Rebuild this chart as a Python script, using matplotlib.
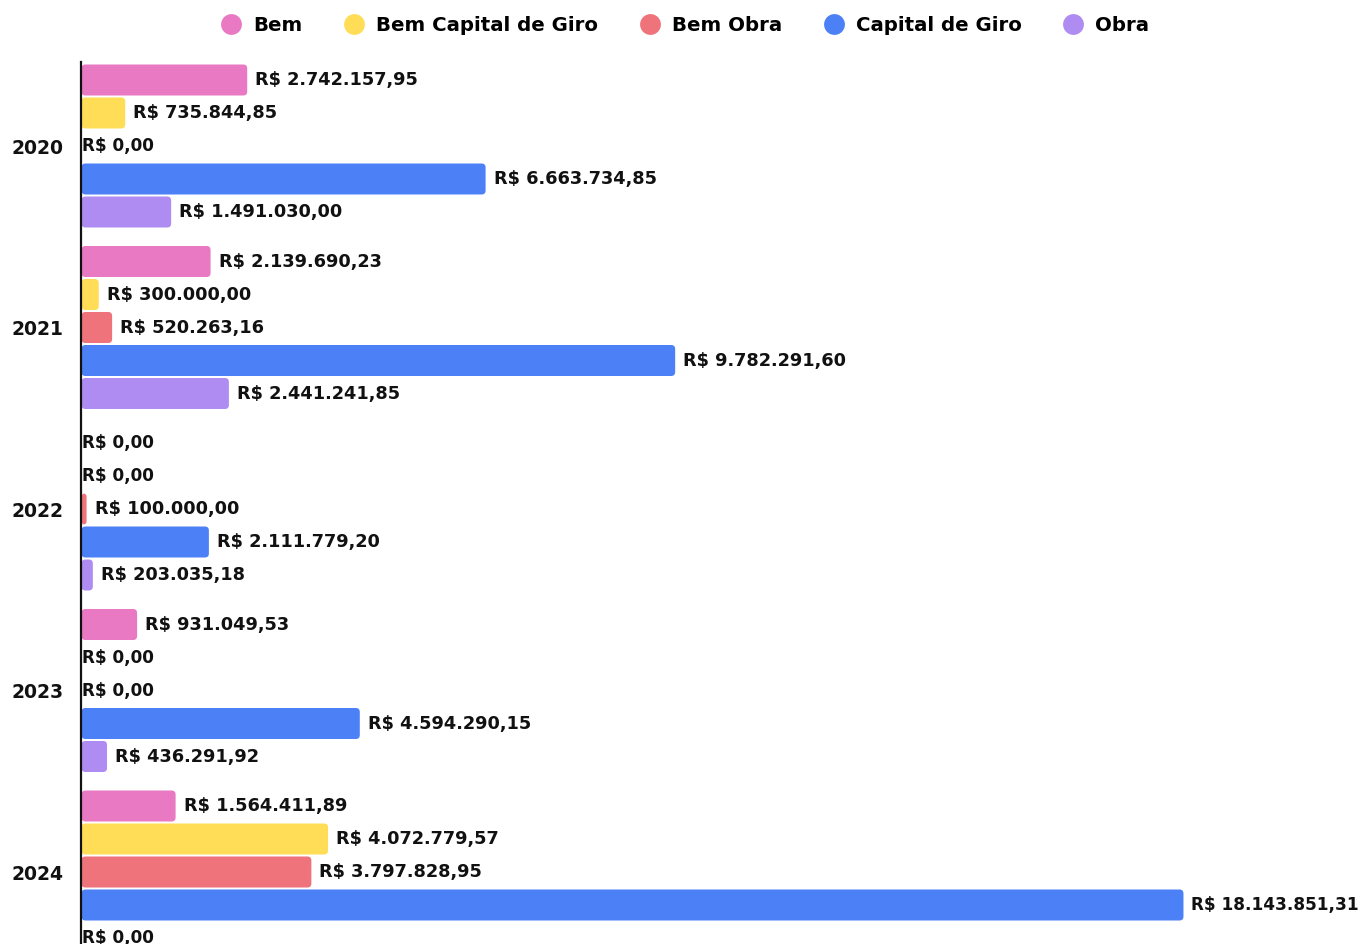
import matplotlib
matplotlib.use("Agg")
import matplotlib.pyplot as plt
from matplotlib.patches import FancyBboxPatch
from matplotlib.lines import Line2D
import numpy as np

years = ["2020", "2021", "2022", "2023", "2024"]
series = ["Bem", "Bem Capital de Giro", "Bem Obra", "Capital de Giro", "Obra"]
bem = [2742157.95, 2139690.23, 0.0, 931049.53, 1564411.89]
bem_capital_giro = [735844.85, 300000.00, 0.0, 0.0, 4072779.57]
bem_obra = [0.0, 520263.16, 100000.00, 0.0, 3797828.95]
capital_giro = [6663734.85, 9782291.60, 2111779.20, 4594290.15, 18143851.31]
obra = [1491030.00, 2441241.85, 203035.18, 436291.92, 0.0]
colors = ["#E879C2", "#FFDD57", "#EF737B", "#4B80F6", "#AF8CF2"]

data = [bem, bem_capital_giro, bem_obra, capital_giro, obra]

plt.rcParams['font.family'] = ['DejaVu Sans']
W, H = 1362, 944
fig = plt.figure(figsize=(W / 100, H / 100), dpi=100)
top_px = 62
ax = fig.add_axes([80.5 / W, 0, 1 - 80.5 / W, (H - top_px) / H])

px_per_group = 181.5
slot = 33 / px_per_group
bh = 31 / px_per_group
x_per_px = 1e6 / 60.79

ax.set_ylim((H - 146) / px_per_group, -(146 - top_px) / px_per_group)
ax.set_xlim(0, (W - 80.5) * x_per_px)

def fmt(v):
    s = f"{v:,.2f}"
    return "R$ " + s.replace(",", "X").replace(".", ",").replace("X", ".")

labels = []
idx = np.arange(len(years))
for j, (vals, col) in enumerate(zip(data, colors)):
    ypos = idx + (j - 2) * slot
    bars = ax.barh(ypos, vals, height=bh, color=col, alpha=0)
    for b, v in zip(bars, vals):
        x0, y0 = b.get_x(), b.get_y()
        w, h = b.get_width(), b.get_height()
        if w > 0:
            r = 4 * x_per_px
            rr = min(r, w / 2)
            p = FancyBboxPatch((x0 + 1 * x_per_px, y0), max(w - 1 * x_per_px, 0), h,
                               boxstyle=f"round,pad=0,rounding_size={rr}",
                               mutation_aspect=(1 / px_per_group) / x_per_px,
                               facecolor=col, edgecolor="none")
            ax.add_patch(p)
            t = ax.text(x0 + w + 8 * x_per_px, y0 + h / 2, fmt(v), va="center", ha="left",
                        fontsize=12.8, fontweight="bold", color="#111111")
            labels.append(t)
        else:
            ax.text(2 * x_per_px, y0 + h / 2, fmt(v), va="center", ha="left",
                    fontsize=12.2, fontweight="bold", color="#111111")

ax.set_yticks(idx)
ax.set_yticklabels(years, fontsize=13.5, fontweight="bold", color="#111111")
ax.tick_params(axis="y", length=0, pad=12)
ax.set_xticks([])
for s in ["top", "right", "bottom"]:
    ax.spines[s].set_visible(False)
ax.spines["left"].set_linewidth(1.6)
ax.spines["left"].set_color("#111111")

handles = [Line2D([0], [0], marker="o", linestyle="none", markersize=15,
                  markerfacecolor=c, markeredgecolor="none") for c in colors]
fig.legend(handles, series, loc="upper center", bbox_to_anchor=(0.4995, 1.0), ncol=5,
           frameon=False, prop={"weight": "bold", "size": 14.2},
           handletextpad=0.12, columnspacing=1.62, borderaxespad=0.42)

# shrink any value label that would run past the right edge of the figure
fig.canvas.draw()
renderer = fig.canvas.get_renderer()
for t in labels:
    bb = t.get_window_extent(renderer)
    limit = W - 4
    if bb.x1 > limit:
        avail = limit - bb.x0
        t.set_fontsize(t.get_fontsize() * avail / bb.width)

fig.savefig("out.png", dpi=100)
